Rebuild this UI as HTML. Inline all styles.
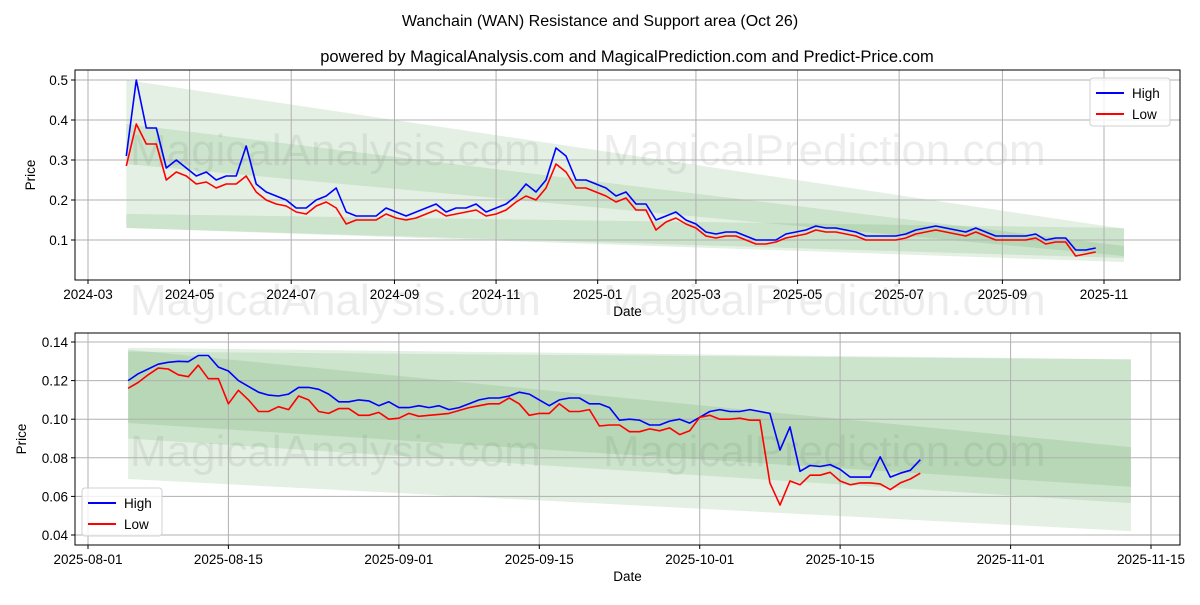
<!DOCTYPE html>
<html><head><meta charset="utf-8"><style>
body{margin:0;background:#fff;font-family:"Liberation Sans",sans-serif}
svg text{font-family:"Liberation Sans",sans-serif}
</style></head><body>
<svg id="c" width="1200" height="600" xmlns="http://www.w3.org/2000/svg">
<text x="600" y="26" text-anchor="middle" font-size="16">Wanchain (WAN) Resistance and Support area (Oct 26)</text>
<text x="627" y="62" text-anchor="middle" font-size="16.5">powered by MagicalAnalysis.com and MagicalPrediction.com and Predict-Price.com</text>
</svg>
<script>
// Top chart data: start 2024-03-24, step 6 days
const topStart = "2024-03-24";
const topStepDays = 6;
const topHigh = [.31,.50,.38,.38,.28,.30,.28,.26,.27,.25,.26,.26,.335,.24,.22,.21,.20,.18,.18,.20,.21,.23,.17,.16,.16,.16,.18,.17,.16,.17,.18,.19,.17,.18,.18,.19,.17,.18,.19,.21,.24,.22,.25,.33,.31,.25,.25,.24,.23,.21,.22,.19,.19,.15,.16,.17,.15,.14,.12,.115,.12,.12,.11,.10,.10,.10,.115,.12,.125,.135,.13,.13,.125,.12,.11,.11,.11,.11,.115,.125,.13,.135,.13,.125,.12,.13,.12,.11,.11,.11,.11,.115,.10,.105,.105,.075,.075,.08];
const topLow = [.285,.39,.34,.34,.25,.27,.26,.24,.245,.23,.24,.24,.26,.22,.20,.19,.185,.17,.165,.185,.195,.18,.14,.15,.15,.15,.165,.155,.15,.155,.165,.175,.16,.165,.17,.175,.16,.165,.175,.195,.21,.20,.23,.29,.27,.23,.23,.22,.21,.195,.205,.175,.175,.125,.145,.155,.14,.13,.11,.105,.11,.11,.10,.09,.09,.095,.105,.11,.115,.125,.12,.12,.115,.11,.10,.10,.10,.10,.105,.115,.12,.125,.12,.115,.11,.12,.11,.10,.10,.10,.10,.105,.09,.095,.095,.06,.065,.07];
const topTicksY = [0.1,0.2,0.3,0.4,0.5];
const topTicksX = ["2024-03","2024-05","2024-07","2024-09","2024-11","2025-01","2025-03","2025-05","2025-07","2025-09","2025-11"];
const topBandDates = ["2024-03-24","2025-11-13"];
const topBandUpperStart = [0.50,0.39,0.165];
const topBandUpperEnd = [0.128,0.085,0.13];
const topBandLowerStart = [0.13,0.29,0.13];
const topBandLowerEnd = [0.045,0.06,0.055];

// Bottom chart data: start 2025-08-05, daily
const botStart = "2025-08-05";
const botHigh = [.120,.1235,.126,.1285,.1295,.130,.1298,.133,.133,.127,.125,.120,.117,.114,.1125,.112,.113,.1165,.1165,.1155,.113,.109,.109,.110,.1095,.107,.109,.106,.106,.107,.106,.107,.105,.106,.108,.110,.111,.111,.112,.114,.113,.110,.107,.110,.111,.111,.108,.108,.106,.0995,.100,.0995,.097,.097,.099,.100,.098,.101,.104,.105,.104,.104,.105,.104,.103,.084,.096,.073,.076,.0755,.0765,.074,.070,.070,.070,.0805,.070,.072,.0735,.079];
const botLow = [.116,.119,.123,.1265,.126,.123,.122,.128,.121,.121,.108,.115,.110,.104,.104,.1065,.105,.112,.110,.104,.103,.1055,.1055,.102,.102,.1035,.100,.1005,.103,.1015,.102,.1025,.103,.1045,.106,.107,.108,.108,.111,.108,.102,.103,.103,.108,.104,.104,.105,.0965,.097,.097,.0935,.0935,.095,.094,.0955,.092,.094,.101,.102,.100,.100,.1005,.0995,.0995,.067,.0555,.068,.066,.071,.071,.0725,.068,.066,.067,.067,.0665,.0635,.067,.069,.072];
const botTicksY = [0.04,0.06,0.08,0.10,0.12,0.14];
const botTicksX = ["2025-08-01","2025-08-15","2025-09-01","2025-09-15","2025-10-01","2025-10-15","2025-11-01","2025-11-15"];
const botBandDates = ["2025-08-05","2025-11-13"];
const botBandUpperStart = [0.137,0.136,0.135];
const botBandUpperEnd = [0.131,0.0855,0.131];
const botBandLowerStart = [0.069,0.090,0.098];
const botBandLowerEnd = [0.042,0.0565,0.065];

const NS="http://www.w3.org/2000/svg";
const svg=document.getElementById('c');
function mk(tag,attrs,parent){const e=document.createElementNS(NS,tag);for(const k in attrs)e.setAttribute(k,attrs[k]);(parent||svg).appendChild(e);return e;}
function day(s){const p=s.split('-').map(Number);return Date.UTC(p[0],p[1]-1,p[2]||1)/86400000;}

function drawPanel(o){
  const {x0,x1,y0,y1,d0,dx0,pxPerDay,v0,pxPerUnit}=o;
  const X=d=>dx0+(d-d0)*pxPerDay;
  const Y=v=>y1-(v-v0)*pxPerUnit;
  const g=mk('g',{});
  
  
  o.wm.forEach(w=>{const t=mk('text',{x:w[0],y:w[1],'font-size':44,fill:'#000','fill-opacity':0.07},g);t.textContent=w[2];
    
    });
  const bd0=day(o.bandDates[0]),bd1=day(o.bandDates[1]);
  for(let i=0;i<o.bUS.length;i++){
    const pts=[[X(bd0),Y(o.bUS[i])],[X(bd1),Y(o.bUE[i])],[X(bd1),Y(o.bLE[i])],[X(bd0),Y(o.bLS[i])]];
    const p=mk('polygon',{points:pts.map(q=>q.join(',')).join(' '),fill:'#2e8b2e','fill-opacity':0.13},g);
    
    
  }
  o.ticksY.forEach(v=>{const y=Y(v);
    const l=mk('line',{x1:x0,x2:x1,y1:y,y2:y,stroke:'#b0b0b0','stroke-width':1},g);
    
    
    mk('line',{x1:x0-4,x2:x0,y1:y,y2:y,stroke:'#000'},g);
    const t=mk('text',{x:x0-7,y:y+5,'text-anchor':'end','font-size':13.5},g);t.textContent=o.fmtY(v);
    
    });
  o.ticksX.forEach(s=>{const x=X(day(s));
    const l=mk('line',{x1:x,x2:x,y1:y0,y2:y1,stroke:'#b0b0b0','stroke-width':1},g);
    
    
    mk('line',{x1:x,x2:x,y1:y1,y2:y1+4,stroke:'#000'},g);
    const t=mk('text',{x:x,y:y1+19,'text-anchor':'middle','font-size':13.5},g);t.textContent=s;
    
    });
  const sd=day(o.start);
  [[o.high,'#0000ff','high-line'],[o.low,'#ff0000','low-line']].forEach(s=>{
    const pts=s[0].map((v,i)=>X(sd+i*o.step).toFixed(1)+','+Y(v).toFixed(1)).join(' ');
    const p=mk('polyline',{points:pts,fill:'none',stroke:s[1],'stroke-width':1.6,'stroke-linejoin':'round'},g);
    
    
  });
  const fr=mk('rect',{x:x0,y:y0,width:x1-x0,height:y1-y0,fill:'none',stroke:'#000','stroke-width':1},g);
  
  
  const xl=mk('text',{x:(x0+x1)/2,y:y1+36,'text-anchor':'middle','font-size':13.5},g);xl.textContent='Date';
  
  
  const yl=mk('text',{x:0,y:0,'text-anchor':'middle','font-size':13.5,transform:`translate(${o.ylx},${(y0+y1)/2}) rotate(-90)`},g);yl.textContent='Price';
  
  
  const [lx,ly]=o.legend;
  const lg=mk('g',{},g);
  
  
  mk('rect',{x:lx,y:ly,width:80,height:48,rx:3,fill:'#fff','fill-opacity':0.8,stroke:'#d0d0d0'},lg);
  [['High','#0000ff',ly+15],['Low','#ff0000',ly+36]].forEach(e=>{
    mk('line',{x1:lx+6,x2:lx+34,y1:e[2],y2:e[2],stroke:e[1],'stroke-width':2},lg);
    const t=mk('text',{x:lx+42,y:e[2]+5,'font-size':13.5},lg);t.textContent=e[0];
    
    
  });
}

drawPanel({name:'top-panel',x0:75,x1:1180,y0:70,y1:280,d0:day('2024-03-01'),dx0:88,pxPerDay:1016/610,v0:0,pxPerUnit:400,
  ticksY:topTicksY,ticksX:topTicksX,fmtY:v=>v.toFixed(1),start:topStart,step:topStepDays,high:topHigh,low:topLow,
  bandDates:topBandDates,bUS:topBandUpperStart,bUE:topBandUpperEnd,bLS:topBandLowerStart,bLE:topBandLowerEnd,
  ylx:35,legend:[1090,78],wm:[[130,165,'MagicalAnalysis.com'],[603,165,'MagicalPrediction.com'],[130,315,'MagicalAnalysis.com'],[603,315,'MagicalPrediction.com']]});
drawPanel({name:'bottom-panel',x0:75,x1:1180,y0:333,y1:545,d0:day('2025-08-01'),dx0:88,pxPerDay:1063/106,v0:0.14-(545-342)/1930,pxPerUnit:1930,
  ticksY:botTicksY,ticksX:botTicksX,fmtY:v=>v.toFixed(2),start:botStart,step:1,high:botHigh,low:botLow,
  bandDates:botBandDates,bUS:botBandUpperStart,bUE:botBandUpperEnd,bLS:botBandLowerStart,bLE:botBandLowerEnd,
  ylx:26,legend:[82,488],wm:[[130,466,'MagicalAnalysis.com'],[603,466,'MagicalPrediction.com']]});
</script>
</body></html>
